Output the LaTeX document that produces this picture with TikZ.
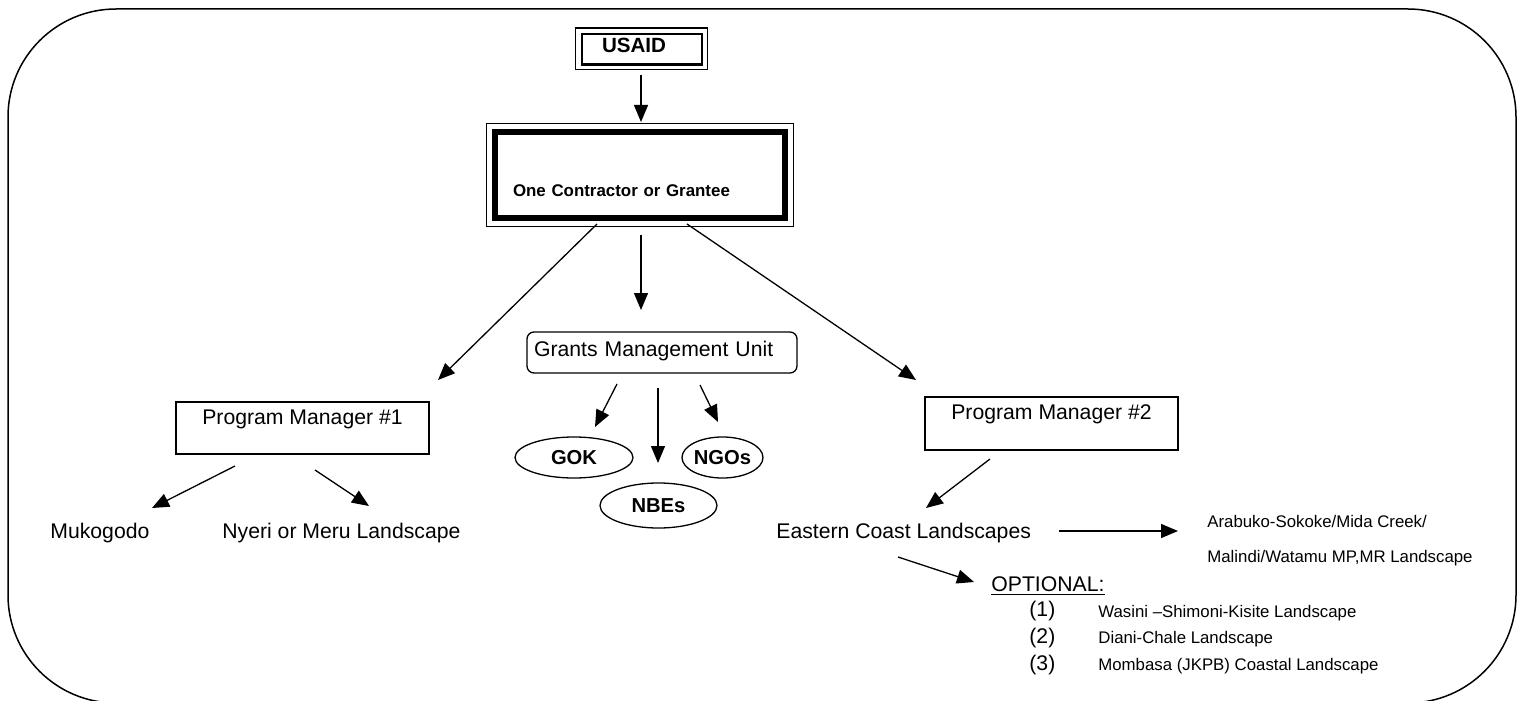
\documentclass[tikz,border=0pt]{standalone}
\usepackage{fontspec}
\setmainfont{Liberation Sans}
\usetikzlibrary{arrows.meta,shapes.geometric}
\newcommand{\fmain}{\fontsize{10.6}{12.7}\selectfont}
\newcommand{\fsmall}{\fontsize{8.4}{10}\selectfont}
\begin{document}
\begin{tikzpicture}[x=0.5pt,y=-0.5pt,
  lbl/.style={inner sep=0pt, font=\fmain, anchor=base west},
  sml/.style={inner sep=0pt, font=\fsmall, anchor=base west},
  arr/.style={line width=0.65pt, -{Triangle[length=8.5pt,width=7pt]}},
  pmbox/.style={draw, line width=0.65pt, inner sep=0pt, minimum width=126.5pt, text height=11pt, font=\fmain},
  oval/.style={ellipse, draw, line width=0.65pt, inner sep=0pt, font=\fontsize{10.1}{12}\selectfont\bfseries},
]
\useasboundingbox (0,0) rectangle (1526,701);
\clip (0,0) rectangle (1526,701);
% outer frame
\draw[line width=0.75pt, rounded corners=54pt] (8,9) rectangle (1516,703);

% USAID
\node[draw, line width=1.15pt, inner ysep=0pt, inner xsep=10pt, text width=40pt, align=left,
      text height=9.35pt, text depth=5.9pt, font=\fontsize{10.3}{12}\selectfont\bfseries]
  (usaid) at (642,49.25) {USAID};
\draw[line width=0.65pt] ([shift={(-5.5,-4.75)}]usaid.north west) rectangle ([shift={(4,4)}]usaid.south east);

% Contractor
\node[draw, line width=2.8pt, inner ysep=0pt, inner xsep=9pt, text width=127pt, align=left,
      text height=32.5pt, text depth=10.5pt, font=\fontsize{8.45}{10}\selectfont\bfseries]
  (contr) at (640,175) {One Contractor or Grantee};
\draw[line width=0.65pt] ([shift={(-6,-6)}]contr.north west) rectangle ([shift={(6,6)}]contr.south east);

% Grants Management Unit
\node[draw, line width=0.65pt, rounded corners=3.5pt, inner ysep=0pt, inner xsep=3.5pt, text width=128pt, align=left,
      text height=12pt, text depth=8.5pt, font=\fmain]
  (gmu) at (662,352.5) {Grants Management Unit};

% ellipses
\node[oval, minimum width=59pt, minimum height=20.5pt] (gok) at (574,457.5) {GOK};
\node[oval, minimum width=40.5pt, minimum height=20.5pt] (ngo) at (722.5,457.5) {NGOs};
\node[oval, minimum width=58.5pt, minimum height=22.5pt] (nbe) at (658.5,505.5) {NBEs};

% program managers
\node[pmbox, text depth=15pt] (pm1) at (302.5,428) {Program Manager \#1};
\node[pmbox, text depth=15.5pt] (pm2) at (1051.5,423.5) {Program Manager \#2};

% landscapes
\node[lbl] (muk) at (50,538) {Mukogodo};
\node[lbl] (nyeri) at (222,538) {Nyeri or Meru Landscape};
\node[lbl] (ecl) at (776,538) {Eastern Coast Landscapes};
\node[sml] (arab1) at (1207,527) {Arabuko-Sokoke/Mida Creek/};
\node[sml] (arab2) at (1207,562) {Malindi/Watamu MP,MR Landscape};
\node[lbl] (opt) at (991,591) {\underline{OPTIONAL:}};
\node[lbl] (n1) at (1029,616) {(1)};
\node[lbl] (n2) at (1029,643) {(2)};
\node[lbl] (n3) at (1029,670) {(3)};
\node[sml] (o1) at (1098,617) {Wasini \textendash Shimoni-Kisite Landscape};
\node[sml] (o2) at (1098,643) {Diani-Chale Landscape};
\node[sml] (o3) at (1098,670) {Mombasa (JKPB) Coastal Landscape};

% connector ends
\coordinate (u-s) at (641,75);    \coordinate (c-n) at (641,122);
\coordinate (c-sl) at (597,224);  \coordinate (pm1-n) at (438,380);
\coordinate (c-sm) at (641,235);  \coordinate (gmu-n) at (641,310);
\coordinate (c-sr) at (687,224);  \coordinate (pm2-n) at (916,380);
\coordinate (g-sl) at (617,384);  \coordinate (gok-n) at (595,427);
\coordinate (g-sm) at (658,388);  \coordinate (nbe-n) at (658,463);
\coordinate (g-sr) at (700,385);  \coordinate (ngo-n) at (718,422);
\coordinate (p1-sl) at (235,466); \coordinate (muk-n) at (152,508);
\coordinate (p1-sr) at (315,470); \coordinate (nye-n) at (369,506);
\coordinate (p2-s) at (990,459);  \coordinate (ecl-n) at (926,508);
\coordinate (ecl-e) at (1059,531); \coordinate (arab-w) at (1178,531);
\coordinate (ecl-s) at (898,557); \coordinate (opt-w) at (974,582);

\draw[arr] (u-s) -- (c-n);
\draw[arr] (c-sl) -- (pm1-n);
\draw[arr] (c-sm) -- (gmu-n);
\draw[arr] (c-sr) -- (pm2-n);
\draw[arr] (g-sl) -- (gok-n);
\draw[arr] (g-sm) -- (nbe-n);
\draw[arr] (g-sr) -- (ngo-n);
\draw[arr] (p1-sl) -- (muk-n);
\draw[arr] (p1-sr) -- (nye-n);
\draw[arr] (p2-s) -- (ecl-n);
\draw[arr] (ecl-e) -- (arab-w);
\draw[arr] (ecl-s) -- (opt-w);
\end{tikzpicture}
\end{document}
